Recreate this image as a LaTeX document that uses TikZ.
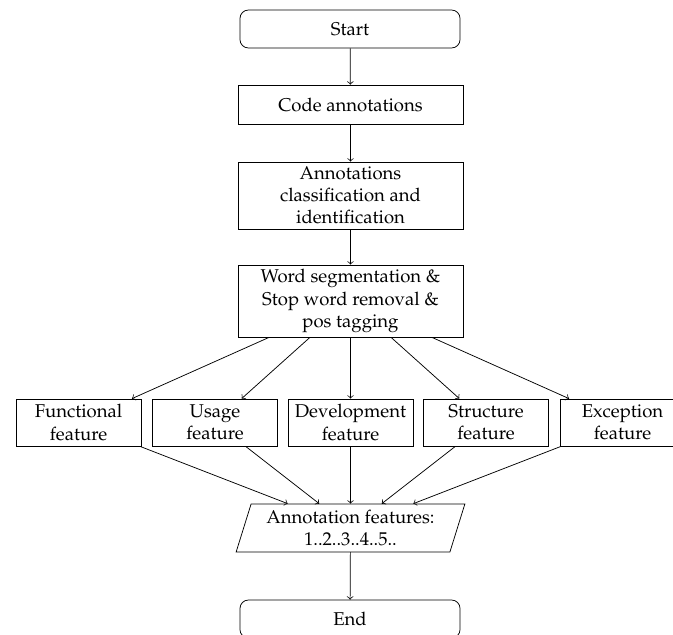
\documentclass[tikz,border=0pt]{standalone}
\usepackage[T1]{fontenc}
\usepackage{mathpazo}
\usetikzlibrary{shapes.geometric}
\tikzset{
  proc/.style={draw, rectangle, align=center, minimum width=121.5pt, inner sep=1pt},
  term/.style={draw, rectangle, rounded corners=4.5pt, minimum width=118.8pt, minimum height=20.5pt},
  feat/.style={draw, rectangle, align=center, minimum width=67.5pt, minimum height=25.4pt, inner sep=1pt},
  io/.style={draw, trapezium, trapezium left angle=72, trapezium right angle=108, trapezium stretches=true, align=center, minimum width=123.7pt, minimum height=25.9pt, inner sep=1pt},
  conn/.style={->}
}
\begin{document}
\begin{tikzpicture}[x=0.54pt, y=-0.54pt]
\useasboundingbox (0,0) rectangle (673,634);
\node[term] (start) at (350,29) {Start};
\node[proc, minimum height=21pt] (code) at (350.5,104.5) {Code annotations};
\node[proc, minimum height=36.2pt] (cls) at (350.5,195.5) {Annotations\\classification and\\identification};
\node[proc, minimum height=38.9pt] (ws) at (350.5,301) {Word segmentation \&\\Stop word removal \&\\pos tagging};
\node[feat] (f1) at (78.5,422.5) {Functional\\feature};
\node[feat] (f2) at (215,422.5) {Usage\\feature};
\node[feat] (f3) at (350.5,422.5) {Development\\feature};
\node[feat] (f4) at (486,422.5) {Structure\\feature};
\node[feat] (f5) at (622.5,422.5) {Exception\\feature};
\node[io] (af) at (350.5,528) {Annotation features:\\1..2..3..4..5..};
\node[term] (end) at (350,619) {End};
\draw[conn] (start) -- (code);
\draw[conn] (code) -- (cls);
\draw[conn] (cls) -- (ws);
\foreach \f in {f1,f2,f3,f4,f5} {
  \draw[conn] (ws) -- (\f);
  \draw[conn] (\f) -- (af);
}
\draw[conn] (af) -- (end);
\end{tikzpicture}
\end{document}
